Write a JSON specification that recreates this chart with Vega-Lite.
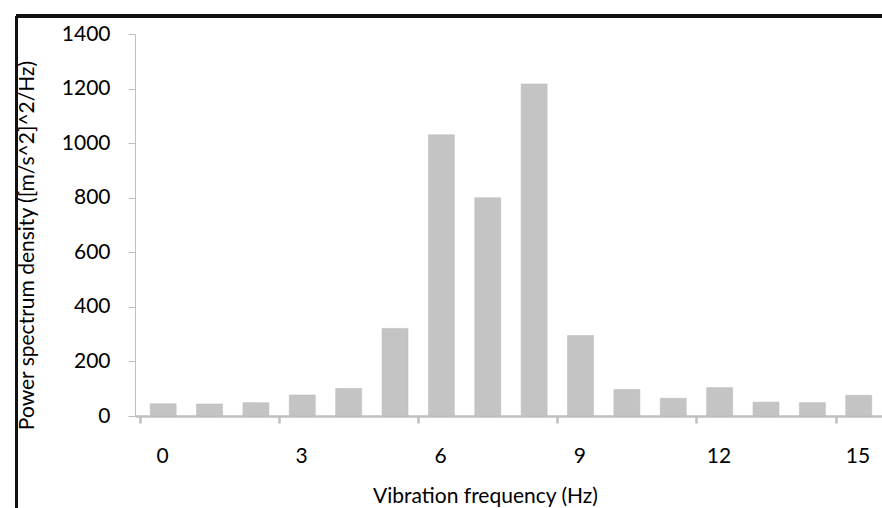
{
  "$schema": "https://vega.github.io/schema/vega-lite/v6.json",
  "autosize": {"type": "none"},
  "width": 747,
  "height": 382,
  "padding": {"left": 135, "top": 34, "right": 0, "bottom": 92},
  "background": "white",
  "config": {"view": {"stroke": null}, "font": "Lato"},
  "data": {"values": [
    {"freq": 0, "psd": 45},
    {"freq": 1, "psd": 44},
    {"freq": 2, "psd": 49},
    {"freq": 3, "psd": 77},
    {"freq": 4, "psd": 101},
    {"freq": 5, "psd": 321},
    {"freq": 6, "psd": 1031},
    {"freq": 7, "psd": 800},
    {"freq": 8, "psd": 1217},
    {"freq": 9, "psd": 295},
    {"freq": 10, "psd": 97},
    {"freq": 11, "psd": 65},
    {"freq": 12, "psd": 104},
    {"freq": 13, "psd": 51},
    {"freq": 14, "psd": 49},
    {"freq": 15, "psd": 76}
  ]},
  "layer": [
    {
      "mark": {"type": "bar", "width": 26, "fill": "#c4c4c4", "stroke": "#b8b8b8", "strokeWidth": 0.5},
      "encoding": {
        "x": {
          "field": "freq", "type": "quantitative",
          "scale": {"domain": [-0.5, 15.394], "nice": false, "zero": false},
          "axis": {
            "values": [-0.5, 2.5, 5.5, 8.5, 11.5, 14.5],
            "labelExpr": "format(datum.value + 0.5, 'd')",
            "labelOffset": 22,
            "labelPadding": 22,
            "labelFont": "Lato", "labelFontSize": 21, "labelColor": "black",
            "labelBound": false, "labelOverlap": false, "labelFlush": false,
            "domainColor": "#bfbfbf", "domainWidth": 2.5,
            "tickColor": "#bfbfbf", "tickWidth": 2.5, "tickSize": 7,
            "grid": false,
            "title": "Vibration frequency (Hz)",
            "titleFont": "Lato", "titleFontSize": 21, "titleFontWeight": "normal", "titleColor": "black",
            "titleX": 350, "titleY": 86, "titleBaseline": "alphabetic", "titleAlign": "center"
          }
        },
        "y": {
          "field": "psd", "type": "quantitative",
          "scale": {"domain": [0, 1400], "nice": false},
          "axis": {
            "values": [0, 200, 400, 600, 800, 1000, 1200, 1400],
            "format": "d",
            "labelPadding": 18,
            "labelFont": "Lato", "labelFontSize": 21, "labelColor": "black",
            "domainColor": "#bfbfbf", "domainWidth": 1,
            "tickColor": "#bfbfbf", "tickWidth": 1, "tickSize": 7,
            "grid": false,
            "title": "Power spectrum density ([m/s^2]^2/Hz)",
            "titleFont": "Lato", "titleFontSize": 21, "titleFontWeight": "normal", "titleColor": "black",
            "titleAngle": 270, "titleX": -108, "titleY": 211, "titleBaseline": "middle", "titleAlign": "center"
          }
        }
      }
    },
    {
      "mark": {"type": "rule", "color": "#111111", "strokeWidth": 2.5, "clip": false},
      "encoding": {
        "x": {"datum": -3.166, "type": "quantitative"},
        "y": {"datum": -400, "type": "quantitative"},
        "y2": {"datum": 1466}
      }
    },
    {
      "mark": {"type": "rule", "color": "#111111", "strokeWidth": 2.5, "clip": false},
      "encoding": {
        "x": {"datum": -3.166, "type": "quantitative"},
        "x2": {"datum": 17},
        "y": {"datum": 1466, "type": "quantitative"}
      }
    }
  ]
}
